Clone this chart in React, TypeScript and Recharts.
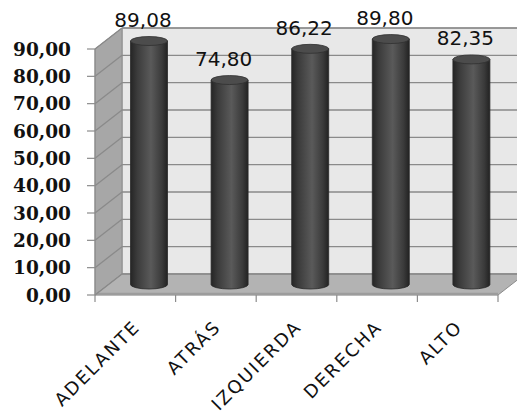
import React from 'react';
import { BarChart, Bar, XAxis, YAxis, CartesianGrid, LabelList } from 'recharts';

const categories = ['ADELANTE', 'ATRÁS', 'IZQUIERDA', 'DERECHA', 'ALTO'];
const values = [89.08, 74.8, 86.22, 89.8, 82.35];
const yTicks = [0, 10, 20, 30, 40, 50, 60, 70, 80, 90];

const data = categories.map((name, i) => ({ name, value: values[i] }));

const W = 517;
const H = 411;
const MARGIN = { top: 49, right: 19, bottom: 0, left: 0 };
const Y_AXIS_W = 95;
const X_AXIS_H = 116;
// depth of the 3D box (back wall offset)
const DX = 27;
const DY = 21;

// plot area corners
const PL = MARGIN.left + Y_AXIS_W;
const PT = MARGIN.top;
const PR = W - MARGIN.right;
const PB = H - MARGIN.bottom - X_AXIS_H;

const fmt = (v: number) => v.toFixed(2).replace('.', ',');

const WALL_STROKE = '#8c8c8c';

function Walls() {
  const pts = (arr: number[][]) => arr.map((p) => p.join(',')).join(' ');
  return (
    <svg width={W} height={H} style={{ position: 'absolute', left: 0, top: 0 }}>
      {/* back wall */}
      <polygon
        points={pts([
          [PL + DX, PT - DY],
          [PR + DX, PT - DY],
          [PR + DX, PB - DY],
          [PL + DX, PB - DY],
        ])}
        fill="#e8e8e8"
        stroke={WALL_STROKE}
        strokeWidth={1}
      />
      {/* left wall */}
      <polygon
        points={pts([
          [PL, PT],
          [PL + DX, PT - DY],
          [PL + DX, PB - DY],
          [PL, PB],
        ])}
        fill="#a7a7a7"
        stroke={WALL_STROKE}
        strokeWidth={1}
      />
      {/* floor */}
      <polygon
        points={pts([
          [PL, PB],
          [PR, PB],
          [PR + DX, PB - DY],
          [PL + DX, PB - DY],
        ])}
        fill="#b3b3b3"
        stroke={WALL_STROKE}
        strokeWidth={1}
      />
      <line x1={PL} y1={PB - 1} x2={PR} y2={PB - 1} stroke="#9c9c9c" strokeWidth={2.5} />
    </svg>
  );
}

function GridLine(p: any) {
  const { x1, y1, x2, y2, index } = p;
  return (
    <g key={`grid-${index}`}>
      <line x1={x1} y1={y1} x2={x1 + DX} y2={y1 - DY} stroke="#8a8a8a" strokeWidth={1.3} />
      <line x1={x1 + DX} y1={y1 - DY} x2={x2 + DX} y2={y2 - DY} stroke="#8a8a8a" strokeWidth={1.3} />
    </g>
  );
}

function Cylinder(p: any) {
  const { x, y, width, height } = p;
  if (width == null || height == null) return null;
  const left = x + DX / 2;
  const right = left + width;
  const cx = left + width / 2;
  const top = y - DY / 2;
  const bottom = y + height - DY / 2;
  const rx = width / 2;
  const ry = 4.5;
  return (
    <g>
      <path
        d={`M${left},${top} L${left},${bottom} A${rx},${ry} 0 0 0 ${right},${bottom} L${right},${top} Z`}
        fill="url(#cylGrad)"
        stroke="#2a2a2a"
        strokeWidth={0.8}
      />
      <ellipse cx={cx} cy={top} rx={rx} ry={ry} fill="#4c4c4c" stroke="#303030" strokeWidth={0.8} />
    </g>
  );
}

function ValueLabel(p: any) {
  const { x, y, width, value } = p;
  const cx = x + width / 2 + DX / 2 - 6;
  const cy = y - DY / 2 - 21;
  return (
    <text
      x={cx}
      y={cy}
      textAnchor="middle"
      dominantBaseline="central"
      fontFamily="DejaVu Sans"
      fontSize={20}
      fill="#111"
    >
      {fmt(Number(value))}
    </text>
  );
}

function XTick(p: any) {
  const { x, y, payload, index, visibleTicksCount } = p;
  const half = (payload && payload.offset) || 40.3;
  const ax = x + 6;
  const ay = y + 33;
  const isLast = index === (visibleTicksCount ?? categories.length) - 1;
  return (
    <g>
      <line x1={x - half} y1={PB} x2={x - half} y2={PB + 7} stroke="#8c8c8c" strokeWidth={1.2} />
      {isLast && (
        <line x1={x + half} y1={PB} x2={x + half} y2={PB + 7} stroke="#8c8c8c" strokeWidth={1.2} />
      )}
      <text
        x={ax}
        y={ay}
        textAnchor="end"
        transform={`rotate(-45, ${ax}, ${ay})`}
        fontFamily="DejaVu Sans"
        fontSize={18}
        letterSpacing={2}
        fill="#111"
      >
        {payload.value}
      </text>
    </g>
  );
}

export default function App() {
  return (
    <div style={{ position: 'absolute', left: 0, top: 0, width: W, height: H, background: '#fff' }}>
      <Walls />
      <div style={{ position: 'absolute', left: 0, top: 0 }}>
        <BarChart width={W} height={H} data={data} margin={MARGIN}>
          <defs>
            <linearGradient id="cylGrad" x1="0" y1="0" x2="1" y2="0">
              <stop offset="0" stopColor="#252525" />
              <stop offset="0.18" stopColor="#3b3b3b" />
              <stop offset="0.55" stopColor="#5a5a5a" />
              <stop offset="0.85" stopColor="#3a3a3a" />
              <stop offset="1" stopColor="#222" />
            </linearGradient>
          </defs>
          <CartesianGrid vertical={false} horizontal={GridLine as any} />
          <XAxis
            dataKey="name"
            height={X_AXIS_H}
            interval={0}
            tickLine={false}
            tickSize={0}
            tickMargin={0}
            axisLine={false}
            tick={<XTick />}
          />
          <YAxis
            width={Y_AXIS_W}
            domain={[0, 90]}
            ticks={yTicks}
            interval={0}
            tickFormatter={fmt}
            tickSize={8}
            tickMargin={16}
            tickLine={{ stroke: '#8c8c8c', strokeWidth: 1.2 }}
            axisLine={{ stroke: WALL_STROKE }}
            tick={{ fontFamily: 'DejaVu Serif', fontWeight: 'bold', fontSize: 18.5, fill: '#111' }}
          />
          <Bar dataKey="value" barSize={37} shape={<Cylinder />} isAnimationActive={false}>
            <LabelList dataKey="value" content={<ValueLabel />} />
          </Bar>
        </BarChart>
      </div>
    </div>
  );
}
